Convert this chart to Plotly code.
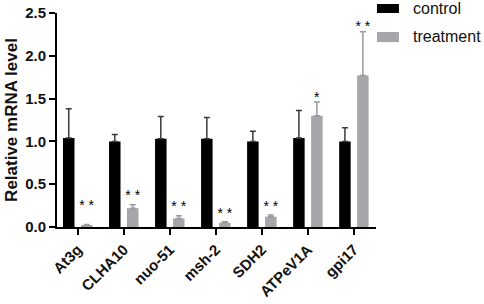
import plotly.graph_objects as go

genes = ["At3g", "CLHA10", "nuo-51", "msh-2", "SDH2", "ATPeV1A", "gpi17"]
control = [1.04, 1.00, 1.03, 1.03, 1.00, 1.04, 1.00]
control_err = [0.34, 0.08, 0.26, 0.25, 0.12, 0.32, 0.16]
treatment = [0.02, 0.22, 0.10, 0.05, 0.12, 1.30, 1.77]
treatment_err = [0.01, 0.04, 0.03, 0.01, 0.02, 0.16, 0.51]
sig_text = ["**", "**", "**", "**", "**", "*", "**"]
sig_level = [0.24, 0.36, 0.23, 0.15, 0.23, 1.50, 2.33]
y_ticks = [0.0, 0.5, 1.0, 1.5, 2.0, 2.5]

FONT = "Arial, Liberation Sans, sans-serif"
CTRL = "#000000"
TRT = "#a6a6aa"

idx = list(range(len(genes)))
fig = go.Figure()
fig.add_trace(go.Bar(
    x=idx, y=control, width=0.25, offset=-0.32, marker=dict(color=CTRL, line=dict(width=0)),
    error_y=dict(type="data", array=control_err, arrayminus=[0]*len(genes), symmetric=False,
                 color="#3a3a3a", thickness=1.5, width=3),
    name="control", showlegend=False))
fig.add_trace(go.Bar(
    x=idx, y=treatment, width=0.25, offset=0.07, marker=dict(color=TRT, line=dict(width=0)),
    error_y=dict(type="data", array=treatment_err, arrayminus=[0]*len(genes), symmetric=False,
                 color="#9a9a9e", thickness=1.5, width=3),
    name="treatment", showlegend=False))
fig.add_trace(go.Scatter(
    x=[i + 0.195 for i in idx], y=sig_level, text=[" ".join(s) for s in sig_text], mode="text",
    textposition="middle center", textfont=dict(family=FONT, size=14, color="#000000"),
    showlegend=False, hoverinfo="skip"))

# manual legend
fig.add_shape(type="rect", xref="paper", yref="paper", x0=1.003, x1=1.072, y0=1.0, y1=1.042,
              fillcolor=CTRL, line=dict(width=0))
fig.add_shape(type="rect", xref="paper", yref="paper", x0=1.003, x1=1.072, y0=0.864, y1=0.911,
              fillcolor=TRT, line=dict(width=0))
fig.add_annotation(xref="paper", yref="paper", x=1.11, y=1.023, text="control", showarrow=False,
                   xanchor="left", yanchor="middle", font=dict(family=FONT, size=16, color="#111111"))
fig.add_annotation(xref="paper", yref="paper", x=1.11, y=0.89, text="treatment", showarrow=False,
                   xanchor="left", yanchor="middle", font=dict(family=FONT, size=16, color="#111111"))

fig.update_layout(
    width=484, height=304, margin=dict(l=57, r=108, t=13, b=77, autoexpand=False),
    paper_bgcolor="white", plot_bgcolor="white", barmode="overlay",
    font=dict(family=FONT, color="#111111"),
)
fig.update_xaxes(
    range=[-0.45, 6.48], tickmode="array", tickvals=idx, ticktext=[f"<b>{g}</b>" for g in genes],
    tickangle=-45, tickfont=dict(family=FONT, size=15, color="#111111"), automargin=False,
    showline=True, linecolor="black", linewidth=2, ticks="outside", ticklen=6, tickwidth=2,
    tickcolor="black", showgrid=False, zeroline=False,
)
fig.update_yaxes(
    range=[0, 2.5], tickmode="array", tickvals=y_ticks, ticktext=[f"<b>{v:.1f}</b>" for v in y_ticks],
    tickfont=dict(family=FONT, size=15, color="#111111"), automargin=False,
    showline=True, linecolor="black", linewidth=2, ticks="outside", ticklen=6, tickwidth=2,
    tickcolor="black", showgrid=False, zeroline=False,
    title=dict(text="<b>Relative mRNA level</b>", font=dict(family=FONT, size=17, color="#111111"),
               standoff=3),
)
fig.write_html("out.html", config={"displayModeBar": False},
               post_script="document.body.style.margin='0';document.body.style.padding='0';")
